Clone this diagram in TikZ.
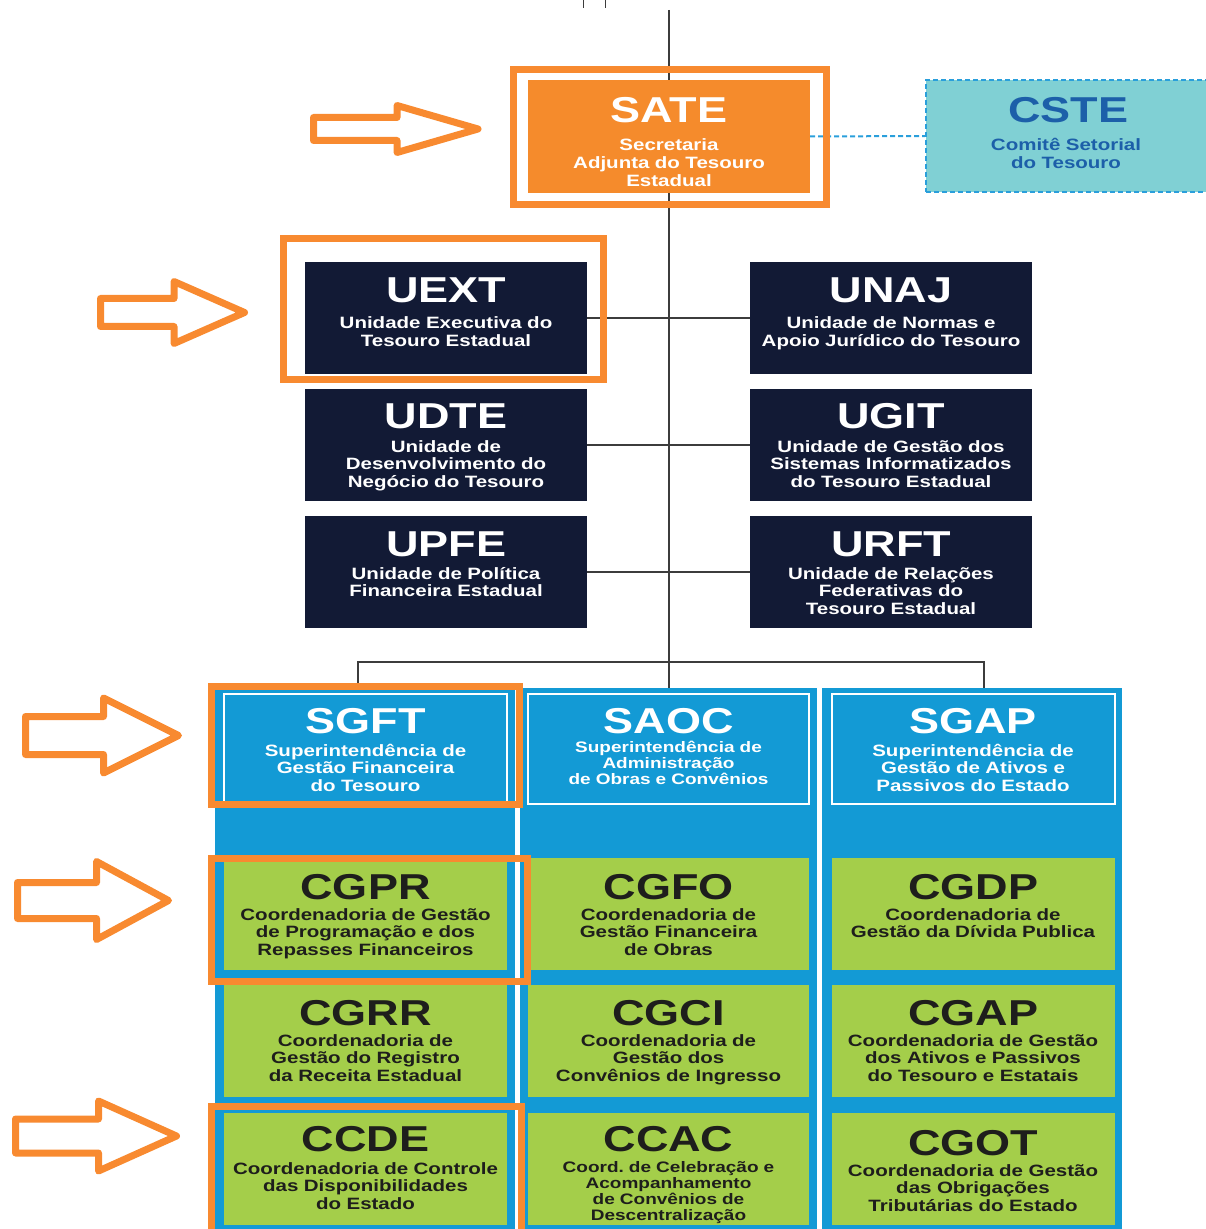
\documentclass[tikz,border=0pt]{standalone}
\usepackage{fontspec}
\setmainfont{Liberation Sans}
\newfontfamily\orgfont{Liberation Sans}[FakeStretch=1.25]
\usetikzlibrary{positioning}
\frenchspacing
\definecolor{sateorange}{HTML}{F58B2C}
\definecolor{hlorange}{HTML}{F88A30}
\definecolor{cstefill}{HTML}{80D0D4}
\definecolor{cstetext}{HTML}{1C5FA9}
\definecolor{dashblue}{HTML}{2A9FDB}
\definecolor{unitnavy}{HTML}{121A35}
\definecolor{colblue}{HTML}{139AD5}
\definecolor{coordgreen}{HTML}{A4CE4A}
\definecolor{coordtext}{HTML}{1E1E1C}
\definecolor{linegray}{HTML}{3C3C3C}
\tikzset{org/.style = {inner sep=0pt, outer sep=0pt}}
\tikzset{satebox/.style = {org, fill=sateorange, minimum width=141pt, minimum height=56.5pt}}
\tikzset{cstebox/.style = {org, fill=cstefill, draw=dashblue, line width=1pt, dash pattern=on 2.5pt off 1.5pt, minimum width=143pt, minimum height=56pt}}
\tikzset{unitbox/.style = {org, fill=unitnavy, minimum width=141pt, minimum height=56pt}}
\tikzset{column/.style = {org, fill=colblue, minimum width=150pt, minimum height=270.5pt}}
\tikzset{supbox/.style = {org, draw=white, line width=1pt, minimum width=141.5pt, minimum height=55pt}}
\tikzset{coordbox/.style = {org, fill=coordgreen, minimum width=141.5pt, minimum height=56pt}}
\tikzset{boxtitle/.style = {org, anchor=base, font=\orgfont\bfseries\fontsize{18}{18}\selectfont}}
\tikzset{boxsub/.style = {org, anchor=base, yshift=-1pt, align=center, text width=150pt, font=\orgfont\bfseries\fontsize{8.2}{8.8}\selectfont}}
\tikzset{boxsubsmall/.style = {boxsub, font=\orgfont\bfseries\fontsize{7.6}{8}\selectfont}}
\tikzset{link/.style = {draw=linegray, line width=1.2pt}}
\tikzset{dotlink/.style = {draw=dashblue, line width=1pt, dash pattern=on 2.5pt off 1.5pt}}
\tikzset{hlframe/.style = {draw=hlorange, line width=3.5pt}}
\tikzset{hlarrow/.style = {draw=hlorange, fill=white, line width=3.5pt, line join=round}}

\begin{document}
\begin{tikzpicture}[x=0.5pt,y=-0.5pt]
	\useasboundingbox (0,0) rectangle (1205,1229);
	% spine of the chart
	\coordinate (top) at (669,10);
	\coordinate (fork) at (669,662);
	\coordinate (forkL) at (358,662);
	\coordinate (forkR) at (984,662);
	\draw[link] (top) -- (fork);
	\draw[linegray, line width=0.5pt] (583,0) -- (583,8);
	\draw[linegray, line width=0.5pt] (605,0) -- (605,8);

	% secretaria and comite
	\node[satebox] (sate) at (669,136.5) {};
	\node[cstebox] (cste) at (1069,136) {};
	\draw[dotlink] (sate.east) -- (cste.west);
	\node[boxtitle, white] (sateT) at (669,123) {SATE};
	\node[boxsub, white] (sateS) at (669,149) {Secretaria\\Adjunta do Tesouro\\Estadual};
	\node[boxtitle, cstetext] (csteT) at (1068,123) {CSTE};
	\node[boxsub, cstetext] (csteS) at (1066,149) {Comitê Setorial\\do Tesouro};

	% unidades
	\node[unitbox] (uext) at (446,318) {};
	\node[unitbox] (unaj) at (890.5,318) {};
	\node[unitbox] (udte) at (446,445) {};
	\node[unitbox] (ugit) at (890.5,445) {};
	\node[unitbox] (upfe) at (446,572) {};
	\node[unitbox] (urft) at (890.5,572) {};
	\draw[link] (uext.east) -- (unaj.west);
	\draw[link] (udte.east) -- (ugit.west);
	\draw[link] (upfe.east) -- (urft.west);
	\node[boxtitle, white] (uextT) at (446,303) {UEXT};
	\node[boxsub, white] (uextS) at (446,327) {Unidade Executiva do\\Tesouro Estadual};
	\node[boxtitle, white] (unajT) at (891,303) {UNAJ};
	\node[boxsub, white] (unajS) at (891,327) {Unidade de Normas e\\Apoio Jurídico do Tesouro};
	\node[boxtitle, white] (udteT) at (446,429) {UDTE};
	\node[boxsub, white] (udteS) at (446,450) {Unidade de\\Desenvolvimento do\\Negócio do Tesouro};
	\node[boxtitle, white] (ugitT) at (891,429) {UGIT};
	\node[boxsub, white] (ugitS) at (891,450) {Unidade de Gestão dos\\Sistemas Informatizados\\do Tesouro Estadual};
	\node[boxtitle, white] (upfeT) at (446,556) {UPFE};
	\node[boxsub, white] (upfeS) at (446,577) {Unidade de Política\\Financeira Estadual};
	\node[boxtitle, white] (urftT) at (891,556) {URFT};
	\node[boxsub, white] (urftS) at (891,577) {Unidade de Relações\\Federativas do\\Tesouro Estadual};

	% superintendencias
	\node[column] (col1) at (365,958.5) {};
	\node[column, minimum width=148.5pt] (col2) at (668.5,958.5) {};
	\node[column] (col3) at (972,958.5) {};
	\draw[link] (fork) -- (forkL) -- (forkL |- col1.north);
	\draw[link] (fork) -- (forkR) -- (forkR |- col3.north);
	\draw[link] (fork) -- (fork |- col2.north);
	\node[supbox] (sgft) at (365.5,749) {};
	\node[supbox, minimum width=140.5pt] (saoc) at (668.5,749) {};
	\node[supbox] (sgap) at (973,749) {};
	\node[boxtitle, white] (sgftT) at (365.5,733) {SGFT};
	\node[boxsub, white] (sgftS) at (365.5,754) {Superintendência de\\Gestão Financeira\\do Tesouro};
	\node[boxtitle, white] (saocT) at (668.5,733) {SAOC};
	\node[boxsubsmall, white] (saocS) at (668.5,750) {Superintendência de\\Administração\\de Obras e Convênios};
	\node[boxtitle, white] (sgapT) at (973,733) {SGAP};
	\node[boxsub, white] (sgapS) at (973,754) {Superintendência de\\Gestão de Ativos e\\Passivos do Estado};

	% coordenadorias
	\node[coordbox] (cgpr) at (365.5,914) {};
	\node[coordbox, minimum width=140.5pt] (cgfo) at (668.5,914) {};
	\node[coordbox] (cgdp) at (973,914) {};
	\node[coordbox] (cgrr) at (365.5,1041) {};
	\node[coordbox, minimum width=140.5pt] (cgci) at (668.5,1041) {};
	\node[coordbox] (cgap) at (973,1041) {};
	\node[coordbox] (ccde) at (365.5,1168.5) {};
	\node[coordbox, minimum width=140.5pt] (ccac) at (668.5,1168.5) {};
	\node[coordbox] (cgot) at (973,1168.5) {};
	\node[boxtitle, coordtext] (cgprT) at (365.5,899) {CGPR};
	\node[boxsub, coordtext] (cgprS) at (365.5,918) {Coordenadoria de Gestão\\de Programação e dos\\Repasses Financeiros};
	\node[boxtitle, coordtext] (cgfoT) at (668.5,899) {CGFO};
	\node[boxsub, coordtext] (cgfoS) at (668.5,918) {Coordenadoria de\\Gestão Financeira\\de Obras};
	\node[boxtitle, coordtext] (cgdpT) at (973,899) {CGDP};
	\node[boxsub, coordtext] (cgdpS) at (973,918) {Coordenadoria de\\Gestão da Dívida Publica};
	\node[boxtitle, coordtext] (cgrrT) at (365.5,1025) {CGRR};
	\node[boxsub, coordtext] (cgrrS) at (365.5,1044) {Coordenadoria de\\Gestão do Registro\\da Receita Estadual};
	\node[boxtitle, coordtext] (cgciT) at (668.5,1025) {CGCI};
	\node[boxsub, coordtext] (cgciS) at (668.5,1044) {Coordenadoria de\\Gestão dos\\Convênios de Ingresso};
	\node[boxtitle, coordtext] (cgapT) at (973,1025) {CGAP};
	\node[boxsub, coordtext] (cgapS) at (973,1044) {Coordenadoria de Gestão\\dos Ativos e Passivos\\do Tesouro e Estatais};
	\node[boxtitle, coordtext] (ccdeT) at (365.5,1151) {CCDE};
	\node[boxsub, coordtext] (ccdeS) at (365.5,1172) {Coordenadoria de Controle\\das Disponibilidades\\do Estado};
	\node[boxtitle, coordtext] (ccacT) at (668.5,1151) {CCAC};
	\node[boxsubsmall, coordtext] (ccacS) at (668.5,1170) {Coord. de Celebração e\\Acompanhamento\\de Convênios de\\Descentralização};
	\node[boxtitle, coordtext] (cgotT) at (973,1155) {CGOT};
	\node[boxsub, coordtext] (cgotS) at (973,1174) {Coordenadoria de Gestão\\das Obrigações\\Tributárias do Estado};

	% highlights
	\draw[hlframe] (513.5,69.5) rectangle (826.5,204.5);
	\draw[hlframe] (283.5,238.5) rectangle (603.5,379.5);
	\draw[hlframe] (211.5,686.5) rectangle (519.5,804.5);
	\draw[hlframe] (211.5,858.5) rectangle (527.5,981.5);
	\draw[hlframe] (211.5,1106.5) rectangle (521.5,1240);
	\draw[hlarrow] (313.5,117.5) -- (397,117.5) -- (397,105.5) -- (478,129) -- (397,152.5) -- (397,140.5) -- (313.5,140.5) -- cycle;
	\draw[hlarrow] (100.5,298.5) -- (174,298.5) -- (174,281.5) -- (244.5,312.5) -- (174,343.5) -- (174,326.5) -- (100.5,326.5) -- cycle;
	\draw[hlarrow] (25.5,716.5) -- (103.5,716.5) -- (103.5,698) -- (178.5,735.5) -- (103.5,773) -- (103.5,754.5) -- (25.5,754.5) -- cycle;
	\draw[hlarrow] (17.5,882.5) -- (96.5,882.5) -- (96.5,861.5) -- (168.5,900.5) -- (96.5,939.5) -- (96.5,918.5) -- (17.5,918.5) -- cycle;
	\draw[hlarrow] (15.5,1119) -- (98.5,1119) -- (98.5,1101) -- (176.5,1136) -- (98.5,1171) -- (98.5,1153) -- (15.5,1153) -- cycle;
\end{tikzpicture}
\end{document}
